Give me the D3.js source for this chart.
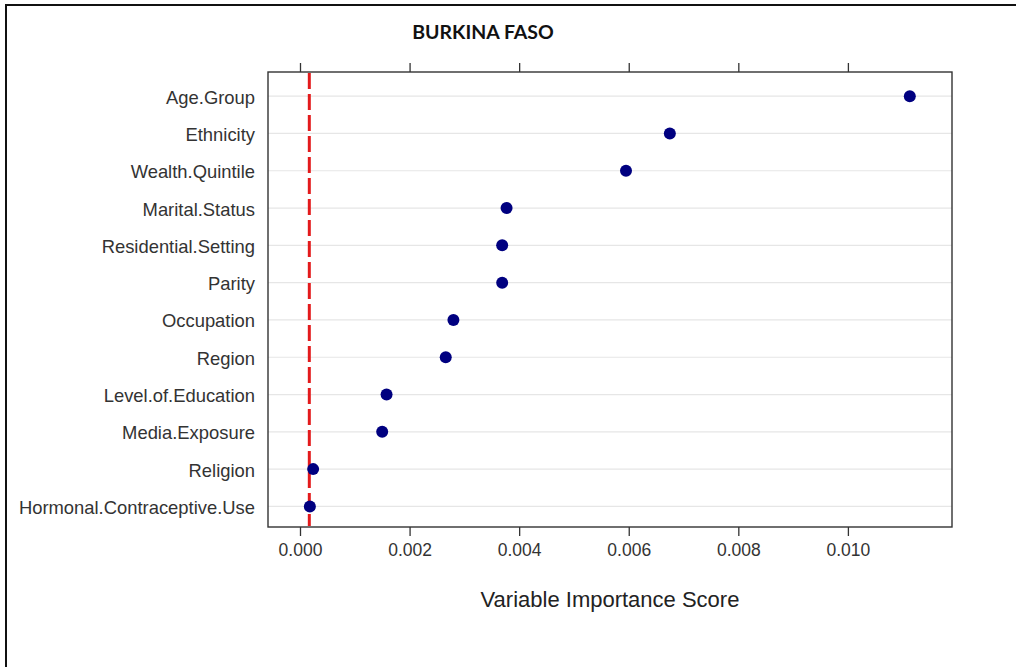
<!DOCTYPE html>
<html>
<head>
<meta charset="utf-8">
<script src="https://cdn.jsdelivr.net/npm/d3@7/dist/d3.min.js"></script>
<style>
  html, body { margin: 0; padding: 0; background: #fff; }
  svg { display: block; }
</style>
</head>
<body>
<svg id="chart" width="1016" height="667"></svg>
<script>
// ---- data ----
const categories = [
  "Age.Group", "Ethnicity", "Wealth.Quintile", "Marital.Status",
  "Residential.Setting", "Parity", "Occupation", "Region",
  "Level.of.Education", "Media.Exposure", "Religion", "Hormonal.Contraceptive.Use"
];
const importance = [
  0.01113, 0.00675, 0.00595, 0.00377,
  0.00369, 0.00369, 0.00280, 0.00266,
  0.00158, 0.00150, 0.00024, 0.00018
];
const xTicks = [0.000, 0.002, 0.004, 0.006, 0.008, 0.010];
const cutoff = [0.00017];
const chartTitle = "BURKINA FASO";
const xTitle = "Variable Importance Score";

// ---- layout ----
const svg = d3.select("#chart");
const plot = { left: 268, right: 952, top: 72, bottom: 527 };

// outer frame (extends beyond the window on right/bottom)
svg.append("rect")
  .attr("x", 6).attr("y", 5).attr("width", 1100).attr("height", 800)
  .attr("fill", "none").attr("stroke", "#111").attr("stroke-width", 2);

const x = d3.scaleLinear()
  .domain([-0.000584, 0.0119])
  .range([plot.left, plot.right]);

const y = d3.scalePoint()
  .domain(categories)
  .range([plot.top, plot.bottom])
  .padding(0.6)
  .align(0.54);

// gridlines
svg.append("g").selectAll("line")
  .data(categories)
  .join("line")
  .attr("x1", plot.left).attr("x2", plot.right)
  .attr("y1", d => y(d)).attr("y2", d => y(d))
  .attr("stroke", "#e6e6e6").attr("stroke-width", 1.2);

// bottom axis
const xAxisB = d3.axisBottom(x).tickValues(xTicks).tickFormat(d3.format(".3f"))
  .tickSizeOuter(0).tickSizeInner(9).tickPadding(8);
const gB = svg.append("g").attr("transform", `translate(0,${plot.bottom})`).call(xAxisB);
gB.select(".domain").remove();
gB.selectAll(".tick line").attr("stroke", "#333").attr("stroke-width", 1.3);
gB.selectAll(".tick text")
  .attr("font-family", "'Liberation Sans', Arial, sans-serif")
  .attr("font-size", 17.5).attr("fill", "#333");

// top axis (ticks only)
const xAxisT = d3.axisTop(x).tickValues(xTicks).tickFormat("")
  .tickSizeOuter(0).tickSizeInner(9);
const gT = svg.append("g").attr("transform", `translate(0,${plot.top})`).call(xAxisT);
gT.select(".domain").remove();
gT.selectAll(".tick line").attr("stroke", "#333").attr("stroke-width", 1.3);

// left axis labels
const yAxis = d3.axisLeft(y).tickSize(0).tickPadding(13);
const gL = svg.append("g").attr("transform", `translate(${plot.left},0)`).call(yAxis);
gL.select(".domain").remove();
gL.selectAll(".tick text")
  .attr("font-family", "'Liberation Sans', Arial, sans-serif")
  .attr("font-size", 18.4).attr("fill", "#333")
  .attr("dy", "0.38em");

// plot frame
svg.append("rect")
  .attr("x", plot.left).attr("y", plot.top)
  .attr("width", plot.right - plot.left).attr("height", plot.bottom - plot.top)
  .attr("fill", "none").attr("stroke", "#333").attr("stroke-width", 1.4);

// cutoff line
svg.append("g").selectAll("line")
  .data(cutoff)
  .join("line")
  .attr("x1", d => x(d)).attr("x2", d => x(d))
  .attr("y1", plot.top + 1).attr("y2", plot.bottom - 1)
  .attr("stroke", "#e31a1c").attr("stroke-width", 3)
  .attr("stroke-dasharray", "16,5");

// points
svg.append("g").selectAll("circle")
  .data(categories.map((c, i) => ({ c, v: importance[i] })))
  .join("circle")
  .attr("cx", d => x(d.v)).attr("cy", d => y(d.c))
  .attr("r", 6)
  .attr("fill", "#000080");

// title
svg.append("text")
  .attr("x", 483).attr("y", 39)
  .attr("text-anchor", "middle")
  .attr("font-family", "Lato, 'Liberation Sans', sans-serif")
  .attr("font-weight", "bold").attr("font-size", 19.5)
  .attr("fill", "#111")
  .text(chartTitle);

// x axis title
svg.append("text")
  .attr("x", 610).attr("y", 607)
  .attr("text-anchor", "middle")
  .attr("font-family", "'Liberation Sans', Arial, sans-serif")
  .attr("font-size", 22).attr("fill", "#222")
  .text(xTitle);
</script>
</body>
</html>
